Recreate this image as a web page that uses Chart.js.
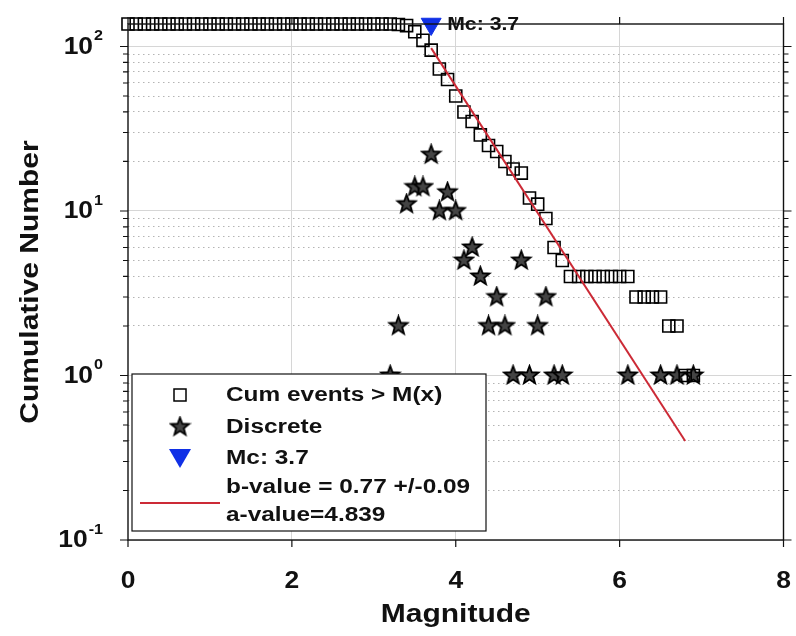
<!DOCTYPE html>
<html>
<head>
<meta charset="utf-8">
<script src="https://cdn.jsdelivr.net/npm/chart.js@4.4.0/dist/chart.umd.min.js"></script>
<style>
  html, body { margin: 0; padding: 0; background: #fff; }
</style>
</head>
<body>
<canvas id="chart" width="796" height="636"></canvas>
<script>
// Frequency-magnitude distribution (cumulative + discrete counts)

const magnitudes = [
    0.0, 0.1, 0.2, 0.3, 0.4, 0.5, 0.6, 0.7, 0.8, 0.9,
    1.0, 1.1, 1.2, 1.3, 1.4, 1.5, 1.6, 1.7, 1.8, 1.9,
    2.0, 2.1, 2.2, 2.3, 2.4, 2.5, 2.6, 2.7, 2.8, 2.9,
    3.0, 3.1, 3.2, 3.3, 3.4, 3.5, 3.6, 3.7, 3.8, 3.9,
    4.0, 4.1, 4.2, 4.3, 4.4, 4.5, 4.6, 4.7, 4.8, 4.9,
    5.0, 5.1, 5.2, 5.3, 5.4, 5.5, 5.6, 5.7, 5.8, 5.9,
    6.0, 6.1, 6.2, 6.3, 6.4, 6.5, 6.6, 6.7, 6.8, 6.9
];
const cumulative = [
    137, 137, 137, 137, 137, 137, 137, 137, 137, 137,
    137, 137, 137, 137, 137, 137, 137, 137, 137, 137,
    137, 137, 137, 137, 137, 137, 137, 137, 137, 137,
    137, 137, 137, 136, 134, 123, 109, 95, 73, 63,
    50, 40, 35, 29, 25, 23, 20, 18, 17, 12,
    11, 9, 6, 5, 4, 4, 4, 4, 4, 4,
    4, 4, 3, 3, 3, 3, 2, 2, 1, 1
];
const discreteMag = [3.2, 3.3, 3.4, 3.5, 3.6, 3.7, 3.8, 3.9, 4.0, 4.1, 4.2, 4.3, 4.4,
    4.5, 4.6, 4.7, 4.8, 4.9, 5.0, 5.1, 5.2, 5.3, 6.1, 6.5, 6.7, 6.9];
const discreteCount = [1, 2, 11, 14, 14, 22, 10, 13, 10, 5, 6, 4, 2,
    3, 2, 1, 5, 1, 2, 3, 1, 1, 1, 1, 1, 1];
const mcMag = 3.7;
const mcValue = 137;
const fitMag = [3.7, 6.8];
const fitValue = [97.7, 0.40];

const xTicks = [0, 2, 4, 6, 8];
const yMajor = [0.1, 1, 10, 100];
const yExponents = ['-1', '0', '1', '2'];
const yGrid = [0.1, 0.2, 0.3, 0.4, 0.5, 0.6, 0.7, 0.8, 0.9,
    1, 2, 3, 4, 5, 6, 7, 8, 9,
    10, 20, 30, 40, 50, 60, 70, 80, 90, 100];
const legendLabels = ['Cum events > M(x)', 'Discrete', 'Mc: 3.7'];
const fitLabels = ['b-value = 0.77 +/-0.09', 'a-value=4.839'];

const FONT = '"Liberation Sans", Arial, Helvetica, sans-serif';
const INK = '#111';
const RED = '#cc2a36';
const BLUE = '#1030e6';

function makeStar(r) {
    const s = Math.ceil(r * 2 + 4);
    const c = document.createElement('canvas');
    c.width = c.height = s;
    const g = c.getContext('2d');
    g.beginPath();
    for (let i = 0; i < 10; i++) {
        const rr = i % 2 ? r * 0.42 : r;
        const ang = -Math.PI / 2 + i * Math.PI / 5;
        g.lineTo(s / 2 + rr * Math.cos(ang), s / 2 + rr * Math.sin(ang));
    }
    g.closePath();
    g.fillStyle = '#444';
    g.fill();
    g.lineWidth = 1.8;
    g.strokeStyle = '#000';
    g.stroke();
    return c;
}
const starImg = makeStar(9.5);

// MATLAB's bold Helvetica comes out wider than Liberation Sans, so stretch horizontally
function drawText(ctx, txt, x, y, size, align, sx) {
    ctx.save();
    ctx.translate(x, y);
    ctx.scale(sx || 1.2, 1);
    ctx.font = 'bold ' + size + 'px ' + FONT;
    ctx.textAlign = align || 'left';
    ctx.textBaseline = 'middle';
    ctx.fillStyle = INK;
    ctx.fillText(txt, 0, 0);
    ctx.restore();
}

const framePlugin = {
    id: 'frame',
    afterDatasetsDraw(chart) {
        const { ctx, chartArea: a, scales: { x, y } } = chart;
        ctx.save();
        ctx.strokeStyle = INK;
        ctx.lineWidth = 1.4;
        ctx.strokeRect(a.left, a.top, a.right - a.left, a.bottom - a.top);

        // outward tick marks on all four sides
        ctx.lineWidth = 1.2;
        ctx.beginPath();
        x.ticks.forEach(t => {
            const px = x.getPixelForValue(t.value);
            ctx.moveTo(px, a.bottom); ctx.lineTo(px, a.bottom + 7);
            ctx.moveTo(px, a.top); ctx.lineTo(px, a.top - 7);
        });
        y.ticks.forEach(t => {
            const py = y.getPixelForValue(t.value);
            const len = t.major ? 8 : 5;
            ctx.moveTo(a.left, py); ctx.lineTo(a.left - len, py);
            ctx.moveTo(a.right, py); ctx.lineTo(a.right + len, py);
        });
        ctx.stroke();

        // Mc annotation
        drawText(ctx, 'Mc: 3.7', x.getPixelForValue(mcMag) + 16, y.getPixelForValue(mcValue) + 1, 18, 'left', 1.18);
        ctx.restore();
    },
    afterDraw(chart) {
        const { ctx, chartArea: a, scales: { x, y } } = chart;
        ctx.save();

        // tick labels
        xTicks.forEach(v => drawText(ctx, String(v), x.getPixelForValue(v), a.bottom + 42, 23, 'center', 1.15));
        yMajor.forEach((v, i) => {
            const py = y.getPixelForValue(v);
            ctx.font = 'bold 14px ' + FONT;
            const ew = ctx.measureText(yExponents[i]).width * 1.15;
            drawText(ctx, yExponents[i], 103, py - 10, 14, 'right', 1.15);
            drawText(ctx, '10', 103 - ew - 1, py + 1, 23, 'right', 1.15);
        });

        // axis titles
        drawText(ctx, 'Magnitude', (a.left + a.right) / 2, 615, 25, 'center', 1.2);
        ctx.translate(31, (a.top + a.bottom) / 2);
        ctx.rotate(-Math.PI / 2);
        drawText(ctx, 'Cumulative Number', 0, 0, 25, 'center', 1.2);
        ctx.setTransform(1, 0, 0, 1, 0, 0);

        // legend box
        const lx = 132, ly = 374, lw = 354, lh = 157;
        ctx.fillStyle = '#fff';
        ctx.fillRect(lx, ly, lw, lh);
        ctx.strokeStyle = INK;
        ctx.lineWidth = 1.2;
        ctx.strokeRect(lx, ly, lw, lh);

        const mx = 180, tx = 226;
        const rows = [395, 427, 458];
        // square
        ctx.lineWidth = 1.5;
        ctx.strokeStyle = '#000';
        ctx.strokeRect(mx - 6, rows[0] - 6, 12, 12);
        // star
        ctx.drawImage(starImg, mx - starImg.width / 2, rows[1] - starImg.height / 2);
        // triangle
        ctx.beginPath();
        ctx.moveTo(mx - 11, rows[2] - 9);
        ctx.lineTo(mx + 11, rows[2] - 9);
        ctx.lineTo(mx, rows[2] + 10);
        ctx.closePath();
        ctx.fillStyle = BLUE;
        ctx.fill();
        legendLabels.forEach((t, i) => drawText(ctx, t, tx, rows[i], 20, 'left', 1.22));
        // fit line entry
        ctx.strokeStyle = RED;
        ctx.lineWidth = 2;
        ctx.beginPath();
        ctx.moveTo(140, 503); ctx.lineTo(220, 503);
        ctx.stroke();
        drawText(ctx, fitLabels[0], tx, 487, 20, 'left', 1.22);
        drawText(ctx, fitLabels[1], tx, 515, 20, 'left', 1.22);
        ctx.restore();
    }
};

const isMajor = c => c.tick && yMajor.includes(c.tick.value);

new Chart(document.getElementById('chart'), {
    type: 'scatter',
    data: {
        datasets: [
            {
                label: 'Mc',
                data: [{ x: mcMag, y: mcValue }],
                pointStyle: 'triangle',
                rotation: 180,
                pointRadius: 11.5,
                backgroundColor: BLUE,
                borderColor: BLUE,
                borderWidth: 1,
                clip: false
            },
            {
                label: 'Fit',
                type: 'line',
                data: fitMag.map((m, i) => ({ x: m, y: fitValue[i] })),
                borderColor: RED,
                borderWidth: 2,
                pointRadius: 0,
                fill: false
            },
            {
                label: 'Cum events > M(x)',
                data: magnitudes.map((m, i) => ({ x: m, y: cumulative[i] })),
                pointStyle: 'rect',
                pointRadius: 8.5,
                borderColor: '#000',
                borderWidth: 1.6,
                backgroundColor: 'rgba(0,0,0,0)',
                clip: false
            },
            {
                label: 'Discrete',
                data: discreteMag.map((m, i) => ({ x: m, y: discreteCount[i] })),
                pointStyle: starImg,
                clip: false
            }
        ]
    },
    options: {
        responsive: false,
        animation: false,
        devicePixelRatio: 1,
        layout: { padding: { top: 24, right: 5, left: 0, bottom: 0 } },
        plugins: { legend: { display: false }, tooltip: { enabled: false } },
        scales: {
            x: {
                type: 'linear',
                min: 0,
                max: 8,
                afterBuildTicks: s => { s.ticks = xTicks.map(v => ({ value: v })); },
                afterFit: s => { s.height = 96; },
                ticks: { display: false },
                grid: {
                    drawTicks: false,
                    color: c => (c.tick && (c.tick.value === 0 || c.tick.value === 8)) ? 'rgba(0,0,0,0)' : '#d6d6d6'
                },
                border: { display: false }
            },
            y: {
                type: 'logarithmic',
                min: 0.1,
                max: 137,
                afterBuildTicks: s => { s.ticks = yGrid.map(v => ({ value: v, major: yMajor.includes(v) })); },
                afterFit: s => { s.width = 128; },
                ticks: { display: false },
                grid: {
                    drawTicks: false,
                    color: c => isMajor(c) ? '#d6d6d6' : '#b4b4b4'
                },
                border: {
                    display: false,
                    dash: c => isMajor(c) ? [] : [1.5, 3.5]
                }
            }
        }
    },
    plugins: [framePlugin]
});
</script>
</body>
</html>
